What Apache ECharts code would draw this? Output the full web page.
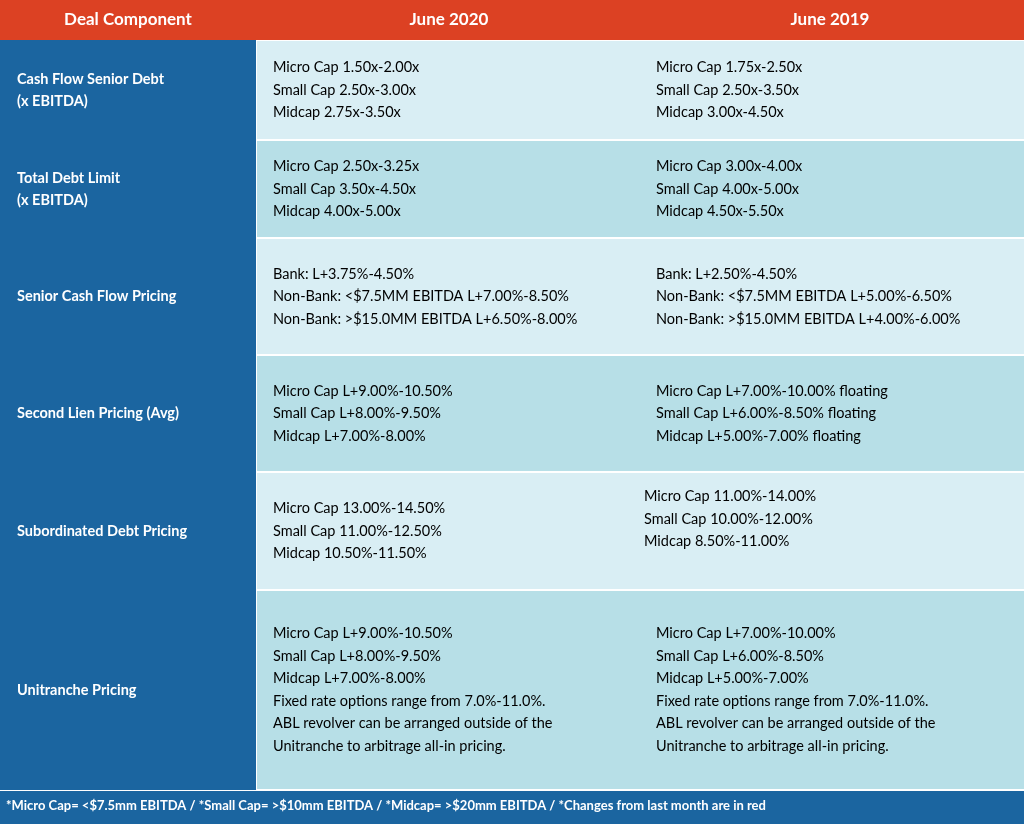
<!DOCTYPE html>
<html><head><meta charset="utf-8">
<script src="https://cdn.jsdelivr.net/npm/echarts@6/dist/echarts.min.js"></script>
<style>html,body{margin:0;padding:0}#c{width:1024px;height:824px}</style>
</head><body><div id="c"></div>
<script>
const headers = ["Deal Component", "June 2020", "June 2019"];
const rowLabels = [
  ["Cash Flow Senior Debt", "(x EBITDA)"],
  ["Total Debt Limit", "(x EBITDA)"],
  ["Senior Cash Flow Pricing"],
  ["Second Lien Pricing (Avg)"],
  ["Subordinated Debt Pricing"],
  ["Unitranche Pricing"]
];
// tags: m = Micro Cap, s = Small Cap, g = Midcap, r = red (changed), t = plain
const june2020 = [
  [[["m","Micro Cap"],["t"," 1.50x-2.00x"]],[["s","Small Cap"],["t"," 2.50x-3.00x"]],[["g","Midcap"],["t"," 2.75x-3.50x"]]],
  [[["m","Micro Cap"],["t"," 2.50x-3.25x"]],[["s","Small Cap"],["t"," 3.50x-4.50x"]],[["g","Midcap"],["t"," 4.00x-5.00x"]]],
  [[["t","Bank: "],["r","L+3.75%-4.50%"]],[["t","Non-Bank: <$7.5MM EBITDA "],["r","L+7.00%-8.50%"]],[["t","Non-Bank: >$15.0MM EBITDA "],["r","L+6.50%-8.00%"]]],
  [[["m","Micro Cap"],["r"," L+9.00%-10.50%"]],[["s","Small Cap"],["r"," L+8.00%-9.50%"]],[["g","Midcap"],["r"," L+7.00%-8.00%"]]],
  [[["m","Micro Cap"],["r"," 13.00%-14.50%"]],[["s","Small Cap"],["r"," 11.00%-12.50%"]],[["g","Midcap"],["r"," 10.50%-11.50%"]]],
  [[["m","Micro Cap"],["r"," L+9.00%-10.50%"]],[["s","Small Cap"],["r"," L+8.00%-9.50%"]],[["g","Midcap"],["r"," L+7.00%-8.00%"]],
   [["t","Fixed rate options range from 7.0%-11.0%."]],[["t","ABL revolver can be arranged outside of the"]],[["t","Unitranche to arbitrage all-in pricing."]]]
];
const june2019 = [
  [[["m","Micro Cap"],["t"," 1.75x-2.50x"]],[["s","Small Cap"],["t"," 2.50x-3.50x"]],[["g","Midcap"],["t"," 3.00x-4.50x"]]],
  [[["m","Micro Cap"],["t"," 3.00x-4.00x"]],[["s","Small Cap"],["t"," 4.00x-5.00x"]],[["g","Midcap"],["t"," 4.50x-5.50x"]]],
  [[["t","Bank: L+2.50%-4.50%"]],[["t","Non-Bank: <$7.5MM EBITDA L+5.00%-6.50%"]],[["t","Non-Bank: >$15.0MM EBITDA L+4.00%-6.00%"]]],
  [[["m","Micro Cap"],["t"," L+7.00%-10.00% floating"]],[["s","Small Cap"],["t"," L+6.00%-8.50% floating"]],[["g","Midcap"],["t"," L+5.00%-7.00% floating"]]],
  [[["m","Micro Cap"],["t"," 11.00%-14.00%"]],[["s","Small Cap"],["t"," 10.00%-12.00%"]],[["g","Midcap"],["t"," 8.50%-11.00%"]]],
  [[["m","Micro Cap"],["t"," L+7.00%-10.00%"]],[["s","Small Cap"],["t"," L+6.00%-8.50%"]],[["g","Midcap"],["t"," L+5.00%-7.00%"]],
   [["t","Fixed rate options range from 7.0%-11.0%."]],[["t","ABL revolver can be arranged outside of the"]],[["t","Unitranche to arbitrage all-in pricing."]]]
];
const footer = "*Micro Cap= <$7.5mm EBITDA / *Small Cap= >$10mm EBITDA / *Midcap= >$20mm EBITDA / *Changes from last month are in red";

const rowTops = [40,140,238,355,472,590,790];
const col3X = [656,656,656,656,644,656];
const FONT = "Lato, 'Noto Sans', sans-serif";
const colors = {m:"#2c4a7c", s:"#f0883a", g:"#1fb04e", r:"#e8232b", t:"#1f1f1f"};
const rich = {};
Object.keys(colors).forEach(k => rich[k] = {color: colors[k], fontSize: 14.5, fontFamily: FONT, lineHeight: 22.5});
const esc = s => s.replace(/[{}|]/g, '');
const fmt = lines => lines.map(l => l.map(([k,v]) => `{${k}|${esc(v)}}`).join('')).join('\n');

const g = [];
g.push({type:'rect', shape:{x:0,y:0,width:1024,height:824}, style:{fill:'#ffffff'}});
g.push({type:'rect', shape:{x:0,y:0,width:1024,height:40}, style:{fill:'#dc4123'}});
g.push({type:'rect', shape:{x:0,y:40,width:256,height:750}, style:{fill:'#1b65a0'}});
g.push({type:'rect', shape:{x:0,y:791,width:1024,height:33}, style:{fill:'#1b65a0'}});
const hx = [128,449,830];
headers.forEach((h,i)=>g.push({type:'text', x:hx[i], y:20, style:{text:h, fill:'#fff', font:`bold 17px ${FONT}`, align:'center', verticalAlign:'middle'}}));
for (let r=0;r<6;r++){
  const y0=rowTops[r], y1=rowTops[r+1];
  g.push({type:'rect', shape:{x:257,y:y0+1,width:767,height:y1-y0-2}, style:{fill: r%2===0?'#d9eef4':'#b7dfe7'}});
  const cy=(y0+y1)/2;
  g.push({type:'text', x:17, y:cy, style:{text:rowLabels[r].join('\n'), fill:'#fff', font:`bold 14.5px ${FONT}`, lineHeight:22, verticalAlign:'middle'}});
  g.push({type:'text', x:273, y:cy, style:{text:fmt(june2020[r]), rich, verticalAlign:'middle'}});
  g.push({type:'text', x:col3X[r], y:r===4?cy-12:cy, style:{text:fmt(june2019[r]), rich, verticalAlign:'middle'}});
}
g.push({type:'text', x:6, y:806, style:{text:footer, fill:'#fff', font:`bold 13px ${FONT}`, verticalAlign:'middle'}});

echarts.init(document.getElementById('c')).setOption({animation:false, graphic:g});
</script></body></html>
